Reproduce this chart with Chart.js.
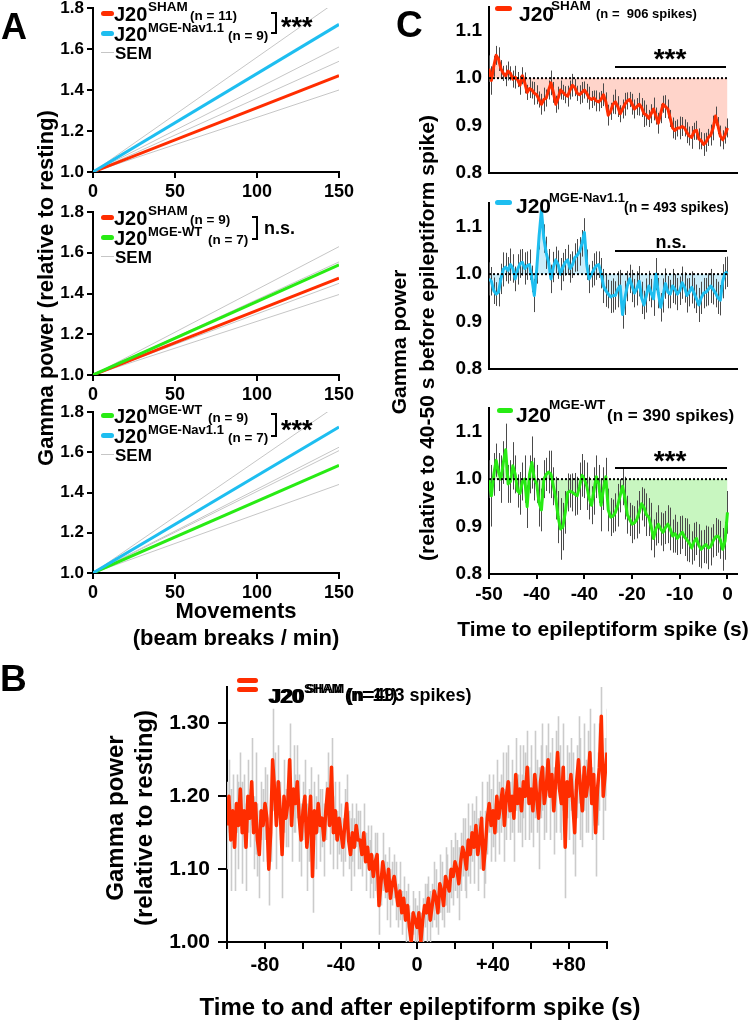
<!DOCTYPE html>
<html>
<head>
<meta charset="utf-8">
<script src="https://cdn.jsdelivr.net/npm/chart.js@4.4.1/dist/chart.umd.min.js"></script>
<style>
  html, body { margin: 0; padding: 0; background: #fff; }
  #page { position: relative; width: 754px; height: 1020px; overflow: hidden; }
  #page canvas { position: absolute; }
  #overlay { position: absolute; left: 0; top: 0; width: 754px; height: 1020px; z-index: 2; }
  .lbl { position: absolute; white-space: pre; line-height: 1; font-family: "Liberation Sans", Arial, sans-serif; font-weight: bold; color: #000; }
  .bx { position: absolute; }
</style>
</head>
<body>
<div id="page">
  <canvas id="a1"></canvas>
  <canvas id="a2"></canvas>
  <canvas id="a3"></canvas>
  <canvas id="c1"></canvas>
  <canvas id="c2"></canvas>
  <canvas id="c3"></canvas>
  <canvas id="b1"></canvas>
  <div id="overlay"></div>
</div>
<script>
// ---- panel A: gamma power vs movements (regression lines) ----
const moveX = [0, 150];
const a1Sham = [1.00, 1.47];
const a1Nav = [1.00, 1.72];
const a1Sem = [[1.00, 1.84], [1.00, 1.61], [1.00, 1.54], [1.00, 1.40]];
const a2Sham = [1.00, 1.475];
const a2Wt = [1.00, 1.54];
const a2Sem = [[1.00, 1.63], [1.00, 1.555], [1.00, 1.45], [1.00, 1.395]];
const a3Wt = [1.00, 1.535];
const a3Nav = [1.00, 1.725];
const a3Sem = [[1.00, 1.84], [1.00, 1.625], [1.00, 1.608], [1.00, 1.44]];
const aYTicks = [1.0, 1.2, 1.4, 1.6, 1.8];
const aYLabels = ['1.0', '1.2', '1.4', '1.6', '1.8'];
const aXTicks = [0, 50, 100, 150];
const aXLabels = ['0', '50', '100', '150'];

// ---- panel C: gamma power before spikes ----
const timeC = [
  -50, -49.5, -49, -48.5, -48, -47.5, -47, -46.5, -46, -45.5,
  -45, -44.5, -44, -43.5, -43, -42.5, -42, -41.5, -41, -40.5,
  -40, -39.5, -39, -38.5, -38, -37.5, -37, -36.5, -36, -35.5,
  -35, -34.5, -34, -33.5, -33, -32.5, -32, -31.5, -31, -30.5,
  -30, -29.5, -29, -28.5, -28, -27.5, -27, -26.5, -26, -25.5,
  -25, -24.5, -24, -23.5, -23, -22.5, -22, -21.5, -21, -20.5,
  -20, -19.5, -19, -18.5, -18, -17.5, -17, -16.5, -16, -15.5,
  -15, -14.5, -14, -13.5, -13, -12.5, -12, -11.5, -11, -10.5,
  -10, -9.5, -9, -8.5, -8, -7.5, -7, -6.5, -6, -5.5,
  -5, -4.5, -4, -3.5, -3, -2.5, -2, -1.5, -1, -0.5,
  0
];
const cSham = [
  1.020, 0.995, 1.025, 1.048, 1.040, 1.020, 1.010, 1.005, 1.015, 1.010,
  0.998, 1.002, 0.997, 0.985, 1.005, 0.990, 0.970, 0.978, 0.975, 0.968,
  0.965, 0.955, 0.945, 0.955, 0.958, 0.975, 0.990, 0.970, 0.945, 0.958,
  0.975, 0.970, 0.965, 0.962, 0.975, 0.985, 0.980, 0.968, 0.965, 0.970,
  0.975, 0.968, 0.958, 0.955, 0.958, 0.952, 0.950, 0.955, 0.965, 0.950,
  0.922, 0.930, 0.945, 0.950, 0.940, 0.925, 0.935, 0.945, 0.952, 0.955,
  0.945, 0.935, 0.940, 0.945, 0.938, 0.925, 0.922, 0.915, 0.925, 0.935,
  0.920, 0.905, 0.925, 0.945, 0.940, 0.935, 0.915, 0.895, 0.890, 0.895,
  0.895, 0.898, 0.895, 0.885, 0.878, 0.875, 0.888, 0.890, 0.872, 0.868,
  0.860, 0.865, 0.875, 0.880, 0.895, 0.920, 0.900, 0.878, 0.870, 0.880,
  0.895
];
const cShamSem = [
  0.028, 0.030, 0.022, 0.020, 0.025, 0.018, 0.016, 0.022, 0.020, 0.015,
  0.018, 0.024, 0.016, 0.020, 0.018, 0.022, 0.016, 0.020, 0.018, 0.024,
  0.020, 0.017, 0.022, 0.025, 0.018, 0.020, 0.026, 0.022, 0.018, 0.024,
  0.020, 0.016, 0.018, 0.022, 0.020, 0.024, 0.018, 0.016, 0.020, 0.022,
  0.018, 0.020, 0.024, 0.018, 0.016, 0.022, 0.020, 0.018, 0.024, 0.020,
  0.022, 0.018, 0.020, 0.026, 0.022, 0.018, 0.020, 0.024, 0.018, 0.016,
  0.022, 0.020, 0.018, 0.024, 0.020, 0.028, 0.022, 0.018, 0.020, 0.024,
  0.018, 0.022, 0.020, 0.018, 0.024, 0.020, 0.018, 0.022, 0.020, 0.018,
  0.024, 0.020, 0.018, 0.022, 0.020, 0.024, 0.018, 0.020, 0.022, 0.018,
  0.024, 0.020, 0.018, 0.022, 0.026, 0.020, 0.018, 0.022, 0.020, 0.018,
  0.020
];
const cNav = [
  0.990, 0.985, 0.965, 0.958, 0.962, 0.990, 1.010, 1.015, 1.008, 1.020,
  1.012, 0.990, 1.010, 1.022, 1.025, 1.012, 1.018, 1.020, 0.990, 0.955,
  1.010, 1.080, 1.135, 1.075, 1.045, 1.025, 0.990, 1.015, 1.030, 1.020,
  1.000, 1.015, 1.025, 1.030, 1.012, 1.020, 1.035, 1.040, 1.048, 1.065,
  1.088, 1.020, 0.990, 1.000, 1.010, 1.018, 1.020, 1.002, 0.975, 0.965,
  0.958, 0.952, 0.955, 0.955, 0.968, 0.975, 0.915, 0.950, 0.975, 0.990,
  0.975, 0.960, 0.970, 0.985, 0.950, 0.935, 0.955, 0.975, 0.960, 0.948,
  1.000, 0.960, 0.930, 0.955, 0.980, 0.962, 0.958, 0.975, 0.968, 0.958,
  0.965, 0.982, 0.972, 0.955, 0.962, 0.972, 0.960, 0.948, 0.935, 0.950,
  0.960, 0.962, 0.968, 0.975, 0.968, 0.960, 0.950, 0.945, 0.985, 1.002,
  1.005
];
const cNavSem = [
  0.035, 0.030, 0.028, 0.025, 0.030, 0.032, 0.036, 0.030, 0.028, 0.034,
  0.030, 0.026, 0.032, 0.030, 0.028, 0.034, 0.030, 0.032, 0.028, 0.035,
  0.030, 0.028, 0.022, 0.030, 0.034, 0.028, 0.030, 0.032, 0.028, 0.030,
  0.034, 0.030, 0.028, 0.032, 0.030, 0.028, 0.030, 0.034, 0.030, 0.028,
  0.030, 0.032, 0.030, 0.028, 0.034, 0.030, 0.028, 0.032, 0.036, 0.034,
  0.030, 0.034, 0.036, 0.030, 0.038, 0.034, 0.030, 0.036, 0.032, 0.030,
  0.034, 0.030, 0.036, 0.032, 0.034, 0.030, 0.036, 0.032, 0.030, 0.036,
  0.034, 0.032, 0.030, 0.036, 0.032, 0.034, 0.030, 0.036, 0.032, 0.034,
  0.030, 0.034, 0.032, 0.036, 0.030, 0.034, 0.032, 0.030, 0.036, 0.034,
  0.032, 0.030, 0.034, 0.036, 0.032, 0.030, 0.034, 0.032, 0.036, 0.034,
  0.032
];
const cWt = [
  1.000, 0.965, 1.010, 1.040, 1.015, 1.000, 1.035, 1.062, 0.990, 0.995,
  1.028, 1.010, 0.975, 0.970, 0.995, 1.000, 0.942, 1.010, 1.035, 1.000,
  0.990, 0.950, 0.935, 1.000, 1.010, 1.015, 1.010, 0.985, 0.960, 0.920,
  0.895, 0.900, 0.930, 0.972, 0.975, 0.972, 0.968, 0.965, 0.985, 1.008,
  1.000, 0.985, 0.960, 0.945, 0.975, 1.005, 0.990, 0.945, 0.980, 1.005,
  0.935, 0.920, 0.922, 0.930, 0.945, 0.965, 0.985, 0.960, 0.925, 0.915,
  0.905, 0.908, 0.915, 0.930, 0.948, 0.940, 0.925, 0.920, 0.900, 0.875,
  0.895, 0.905, 0.895, 0.888, 0.898, 0.905, 0.895, 0.880, 0.885, 0.875,
  0.882, 0.888, 0.878, 0.872, 0.865, 0.855, 0.868, 0.875, 0.860, 0.852,
  0.858, 0.862, 0.855, 0.858, 0.870, 0.878, 0.880, 0.872, 0.852, 0.870,
  0.930
];
const cWtSem = [
  0.040, 0.065, 0.045, 0.035, 0.040, 0.050, 0.045, 0.055, 0.040, 0.045,
  0.050, 0.040, 0.035, 0.045, 0.040, 0.050, 0.045, 0.040, 0.055, 0.045,
  0.040, 0.050, 0.045, 0.040, 0.035, 0.045, 0.050, 0.040, 0.045, 0.055,
  0.065, 0.050, 0.045, 0.040, 0.035, 0.040, 0.045, 0.040, 0.050, 0.045,
  0.040, 0.050, 0.045, 0.040, 0.050, 0.045, 0.040, 0.055, 0.045, 0.040,
  0.045, 0.040, 0.035, 0.040, 0.045, 0.035, 0.040, 0.045, 0.040, 0.035,
  0.040, 0.035, 0.040, 0.045, 0.035, 0.040, 0.045, 0.040, 0.050, 0.040,
  0.035, 0.040, 0.035, 0.040, 0.035, 0.040, 0.045, 0.035, 0.040, 0.035,
  0.040, 0.035, 0.040, 0.045, 0.040, 0.035, 0.040, 0.035, 0.045, 0.040,
  0.035, 0.040, 0.045, 0.040, 0.035, 0.040, 0.035, 0.040, 0.045, 0.040,
  0.045
];
const cRefX = [-50, 0];
const cRefY = [1.0, 1.0];
const cYTicks = [0.8, 0.9, 1.0, 1.1];
const cYLabels = ['0.8', '0.9', '1.0', '1.1'];
const cXTicks = [-50, -40, -30, -20, -10, 0];
const cXLabels = ['-50', '-40', '-40', '-20', '-10', '0'];

// ---- panel B: gamma power around spikes ----
const timeB = [
  -100, -99, -98, -97, -96, -95, -94, -93, -92, -91,
  -90, -89, -88, -87, -86, -85, -84, -83, -82, -81,
  -80, -79, -78, -77, -76, -75, -74, -73, -72, -71,
  -70, -69, -68, -67, -66, -65, -64, -63, -62, -61,
  -60, -59, -58, -57, -56, -55, -54, -53, -52, -51,
  -50, -49, -48, -47, -46, -45, -44, -43, -42, -41,
  -40, -39, -38, -37, -36, -35, -34, -33, -32, -31,
  -30, -29, -28, -27, -26, -25, -24, -23, -22, -21,
  -20, -19, -18, -17, -16, -15, -14, -13, -12, -11,
  -10, -9, -8, -7, -6, -5, -4, -3, -2, -1,
  0, 1, 2, 3, 4, 5, 6, 7, 8, 9,
  10, 11, 12, 13, 14, 15, 16, 17, 18, 19,
  20, 21, 22, 23, 24, 25, 26, 27, 28, 29,
  30, 31, 32, 33, 34, 35, 36, 37, 38, 39,
  40, 41, 42, 43, 44, 45, 46, 47, 48, 49,
  50, 51, 52, 53, 54, 55, 56, 57, 58, 59,
  60, 61, 62, 63, 64, 65, 66, 67, 68, 69,
  70, 71, 72, 73, 74, 75, 76, 77, 78, 79,
  80, 81, 82, 83, 84, 85, 86, 87, 88, 89,
  90, 91, 92, 93, 94, 95, 96, 97, 98, 99,
  100
];
const bSham = [
  1.16, 1.20, 1.14, 1.18, 1.13, 1.19, 1.16, 1.21, 1.15, 1.18,
  1.13, 1.20, 1.17, 1.22, 1.15, 1.19, 1.14, 1.12, 1.18, 1.16,
  1.19, 1.17, 1.10, 1.15, 1.25, 1.21, 1.16, 1.22, 1.18, 1.12,
  1.20, 1.17, 1.19, 1.25, 1.16, 1.21, 1.19, 1.22, 1.17, 1.14,
  1.18, 1.20, 1.13, 1.16, 1.20, 1.09, 1.18, 1.15, 1.19, 1.16,
  1.17, 1.14, 1.18, 1.21, 1.16, 1.24, 1.15, 1.18, 1.14, 1.17,
  1.15, 1.13, 1.16, 1.19, 1.14, 1.12, 1.15, 1.13, 1.16, 1.14,
  1.14, 1.12, 1.15, 1.11, 1.13, 1.10, 1.12, 1.09, 1.11, 1.12,
  1.05, 1.08, 1.11, 1.09, 1.07, 1.10, 1.06, 1.08, 1.09, 1.07,
  1.05, 1.07, 1.04, 1.06, 1.03, 1.05, 1.02, 1.00, 1.04, 1.03,
  1.02, 1.04, 1.00, 1.03, 1.05, 1.04, 1.06, 1.03, 1.05, 1.07,
  1.06, 1.04, 1.08, 1.07, 1.05, 1.09, 1.08, 1.07, 1.10, 1.09,
  1.11, 1.10, 1.08, 1.11, 1.13, 1.12, 1.10, 1.14, 1.12, 1.15,
  1.13, 1.16, 1.12, 1.14, 1.17, 1.10, 1.13, 1.17, 1.19, 1.16,
  1.18, 1.15, 1.20, 1.17, 1.19, 1.21, 1.16, 1.20, 1.22, 1.18,
  1.20, 1.17, 1.23, 1.19, 1.21, 1.18, 1.22, 1.20, 1.24, 1.19,
  1.21, 1.18, 1.23, 1.20, 1.17, 1.22, 1.24, 1.19, 1.21, 1.25,
  1.20, 1.23, 1.18, 1.22, 1.26, 1.21, 1.19, 1.24, 1.13, 1.22,
  1.20, 1.23, 1.19, 1.15, 1.22, 1.25, 1.21, 1.18, 1.24, 1.20,
  1.22, 1.26, 1.19, 1.23, 1.15, 1.21, 1.24, 1.31, 1.20, 1.23,
  1.26
];
const bShamSem = [
  0.06, 0.05, 0.07, 0.05, 0.06, 0.04, 0.06, 0.05, 0.07, 0.05,
  0.06, 0.05, 0.04, 0.06, 0.05, 0.07, 0.05, 0.06, 0.04, 0.05,
  0.05, 0.06, 0.05, 0.04, 0.07, 0.05, 0.06, 0.05, 0.04, 0.06,
  0.05, 0.04, 0.06, 0.05, 0.05, 0.06, 0.04, 0.05, 0.06, 0.05,
  0.04, 0.05, 0.06, 0.05, 0.04, 0.05, 0.04, 0.05, 0.04, 0.05,
  0.04, 0.05, 0.04, 0.05, 0.04, 0.04, 0.05, 0.04, 0.04, 0.05,
  0.04, 0.04, 0.05, 0.04, 0.04, 0.05, 0.04, 0.04, 0.03, 0.04,
  0.04, 0.03, 0.04, 0.04, 0.03, 0.04, 0.04, 0.03, 0.04, 0.03,
  0.04, 0.03, 0.04, 0.03, 0.04, 0.03, 0.04, 0.03, 0.03, 0.04,
  0.03, 0.04, 0.03, 0.03, 0.04, 0.03, 0.03, 0.04, 0.03, 0.03,
  0.03, 0.03, 0.04, 0.03, 0.03, 0.04, 0.03, 0.04, 0.03, 0.04,
  0.04, 0.03, 0.04, 0.04, 0.03, 0.04, 0.04, 0.03, 0.04, 0.04,
  0.04, 0.04, 0.05, 0.04, 0.04, 0.05, 0.04, 0.05, 0.04, 0.04,
  0.05, 0.04, 0.05, 0.04, 0.05, 0.04, 0.05, 0.05, 0.04, 0.05,
  0.05, 0.04, 0.05, 0.05, 0.04, 0.05, 0.05, 0.06, 0.05, 0.04,
  0.05, 0.06, 0.05, 0.04, 0.06, 0.05, 0.05, 0.06, 0.05, 0.05,
  0.06, 0.05, 0.06, 0.05, 0.07, 0.05, 0.06, 0.05, 0.06, 0.05,
  0.06, 0.05, 0.06, 0.07, 0.05, 0.06, 0.05, 0.06, 0.07, 0.05,
  0.06, 0.05, 0.07, 0.06, 0.05, 0.06, 0.07, 0.05, 0.06, 0.05,
  0.07, 0.06, 0.05, 0.07, 0.06, 0.05, 0.06, 0.08, 0.06, 0.05,
  0.06
];
const bYTicks = [1.0, 1.1, 1.2, 1.3];
const bYLabels = ['1.00', '1.10', '1.20', '1.30'];
const bXTicks = [-100, -80, -60, -40, -20, 0, 20, 40, 60, 80, 100];
const bXLabels = ['', '-80', '', '-40', '', '0', '', '+40', '', '+80', ''];

const RED = 'rgb(255,45,0)';
const BLUE = 'rgb(30,190,240)';
const GREEN = 'rgb(40,235,20)';
const SEM_GRAY = '#c6c6c6';
const FONT = '"Liberation Sans", Arial, sans-serif';

// vertical SEM bars, drawn just under each dataset's line
const errorBars = {
  id: 'errorBars',
  beforeDatasetDraw(chart, args) {
    const ds = chart.data.datasets[args.index];
    if (!ds.sem) return;
    const xs = chart.scales.x, ys = chart.scales.y, area = chart.chartArea;
    const ctx = chart.ctx;
    ctx.save();
    ctx.beginPath();
    ctx.rect(area.left, area.top, area.right - area.left, area.bottom - area.top);
    ctx.clip();
    ctx.strokeStyle = ds.semColor;
    ctx.lineWidth = ds.semWidth || 1;
    ctx.beginPath();
    ds.data.forEach((p, i) => {
      const px = Math.round(xs.getPixelForValue(p.x)) + 0.5;
      ctx.moveTo(px, ys.getPixelForValue(p.y - ds.sem[i]));
      ctx.lineTo(px, ys.getPixelForValue(p.y + ds.sem[i]));
    });
    ctx.stroke();
    ctx.restore();
  }
};

function seg(xs, ys) {
  return xs.map((x, i) => ({ x: x, y: ys[i] }));
}

function lineDs(data, color, width, extra) {
  return Object.assign({
    data: data, borderColor: color, borderWidth: width,
    pointRadius: 0, tension: 0, fill: false, borderJoinStyle: 'round'
  }, extra || {});
}

function linScale(o) {
  return {
    type: 'linear', min: o.min, max: o.max,
    afterBuildTicks: s => { s.ticks = o.ticks.map(v => ({ value: v })); },
    border: { display: true, color: '#000', width: 2 },
    grid: {
      display: o.tickLen > 0, drawOnChartArea: false, drawTicks: o.tickLen > 0,
      tickLength: o.tickLen, color: '#000', lineWidth: 2
    },
    ticks: {
      display: o.labels !== null, autoSkip: false, maxRotation: 0, minRotation: 0,
      padding: o.pad || 0, color: '#000',
      font: { family: FONT, weight: 'bold', size: o.size || 12 },
      callback: (v, i) => (o.labels ? o.labels[i] : '')
    }
  };
}

function makeChart(id, box, datasets, xScale, yScale) {
  const c = document.getElementById(id);
  c.width = box.yW + (box.r - box.l) + box.padR;
  c.height = box.padT + (box.b - box.t) + box.xH;
  c.style.left = (box.l - box.yW) + 'px';
  c.style.top = (box.t - box.padT) + 'px';
  xScale.afterFit = s => { s.height = box.xH; };
  yScale.afterFit = s => { s.width = box.yW; };
  return new Chart(c, {
    type: 'line',
    data: { datasets: datasets },
    options: {
      responsive: false, animation: false, events: [], devicePixelRatio: 1,
      layout: { padding: { top: box.padT, right: box.padR, left: 0, bottom: 0 } },
      plugins: { legend: { display: false }, tooltip: { enabled: false } },
      scales: { x: xScale, y: yScale }
    },
    plugins: [errorBars]
  });
}

// ---- A charts ----
function aChart(id, top, bottom, mainLines, semLines) {
  const box = { l: 93, r: 339, t: top, b: bottom, yW: 60, xH: 34, padT: 14, padR: 22 };
  const ds = mainLines.map(m => lineDs(seg(moveX, m[0]), m[1], 3))
    .concat(semLines.map(s => lineDs(seg(moveX, s), SEM_GRAY, 1)));
  makeChart(id, box, ds,
    linScale({ min: 0, max: 150, ticks: aXTicks, labels: aXLabels, size: 18, tickLen: 6, pad: 3 }),
    linScale({ min: 1.0, max: 1.8, ticks: aYTicks, labels: aYLabels, size: 17, tickLen: 6, pad: 3 }));
}
aChart('a1', 8, 172, [[a1Nav, BLUE], [a1Sham, RED]], a1Sem);
aChart('a2', 212, 375, [[a2Wt, GREEN], [a2Sham, RED]], a2Sem);
aChart('a3', 412, 573, [[a3Nav, BLUE], [a3Wt, GREEN]], a3Sem);

// ---- C charts ----
function cChart(id, top, bottom, values, sem, color, fillColor, showX) {
  const box = { l: 489, r: 737, t: top, b: bottom, yW: 52, xH: showX ? 40 : 20, padT: 20, padR: 12 };
  const ds = [
    lineDs(seg(cRefX, cRefY), '#000', 2, { borderDash: [2, 2] }),
    lineDs(seg(timeC, values), color, 3, {
      sem: sem, semColor: '#4a4a4a',
      fill: { target: { value: 1.0 }, above: fillColor, below: fillColor }
    })
  ];
  makeChart(id, box, ds,
    showX ? linScale({ min: -50, max: 2, ticks: cXTicks, labels: cXLabels, size: 19, tickLen: 5, pad: 4 })
          : linScale({ min: -50, max: 2, ticks: cXTicks, labels: null, tickLen: 0 }),
    linScale({ min: 0.8, max: 1.15, ticks: cYTicks, labels: cYLabels, size: 19, tickLen: 0, pad: 7 }));
}
cChart('c1', 7, 173, cSham, cShamSem, RED, 'rgb(255,212,202)', false);
cChart('c2', 203, 369, cNav, cNavSem, BLUE, 'rgb(204,238,250)', false);
cChart('c3', 408, 574, cWt, cWtSem, GREEN, 'rgb(200,246,192)', true);

// ---- B chart ----
makeChart('b1', { l: 227, r: 607, t: 687, b: 942, yW: 70, xH: 40, padT: 24, padR: 10 },
  [lineDs(seg(timeB, bSham), RED, 3.5, { sem: bShamSem, semColor: '#cbcbcb', semWidth: 1.6 })],
  linScale({ min: -100, max: 100, ticks: bXTicks, labels: bXLabels, size: 20, tickLen: 7, pad: 4 }),
  linScale({ min: 1.0, max: 1.35, ticks: bYTicks, labels: bYLabels, size: 21, tickLen: 9, pad: 8 }));

// ---- text and annotation overlay ----
const overlay = document.getElementById('overlay');
function txt(s, x, y, size, how) {
  const d = document.createElement('div');
  d.className = 'lbl';
  d.textContent = s;
  d.style.left = x + 'px';
  d.style.top = y + 'px';
  d.style.fontSize = size + 'px';
  d.style.transform = how === 'c' ? 'translate(-50%,-50%)'
    : how === 'r' ? 'translate(-50%,-50%) rotate(-90deg)'
    : 'translateY(-50%)';
  overlay.appendChild(d);
}
function rect(x, y, w, h, color, radius) {
  const d = document.createElement('div');
  d.className = 'bx';
  d.style.left = x + 'px';
  d.style.top = y + 'px';
  d.style.width = w + 'px';
  d.style.height = h + 'px';
  d.style.background = color;
  if (radius) d.style.borderRadius = radius + 'px';
  overlay.appendChild(d);
}
function swatch(x1, x2, y, color) { rect(x1, y - 2.5, x2 - x1, 5, color, 3); }
function thin(x1, x2, y) { rect(x1, y, x2 - x1, 1, SEM_GRAY); }
function hline(x1, x2, y) { rect(x1, y - 1, x2 - x1, 2, '#000'); }
function bracket(x1, x2, y1, y2) {
  rect(x2 - 2, y1, 2, y2 - y1, '#000');
  rect(x1, y1, x2 - x1, 2, '#000');
  rect(x1, y2 - 2, x2 - x1, 2, '#000');
}

txt('A', 1, 27, 36);
txt('C', 396, 24, 37);
txt('B', 0, 678, 37);

// A1 legend
swatch(101, 114, 13, RED); txt('J20', 114, 14, 20); txt('SHAM', 148, 7, 13.5); txt('(n = 11)', 190, 16, 13.5);
swatch(101, 114, 33, BLUE); txt('J20', 114, 34, 20); txt('MGE-Nav1.1', 148, 27, 13); txt('(n = 9)', 228, 36, 13.5);
thin(101, 114, 52); txt('SEM', 115, 53, 17);
bracket(271, 277, 12, 34); txt('***', 281, 27, 27);
// A2 legend
swatch(101, 114, 217, RED); txt('J20', 114, 218, 20); txt('SHAM', 148, 211, 13.5); txt('(n = 9)', 190, 220, 13.5);
swatch(101, 114, 237, GREEN); txt('J20', 114, 238, 20); txt('MGE-WT', 148, 231, 13); txt('(n = 7)', 208, 240, 13.5);
thin(101, 114, 256); txt('SEM', 115, 257, 17);
bracket(252, 258, 216, 240); txt('n.s.', 264, 228, 18);
// A3 legend
swatch(101, 114, 415, GREEN); txt('J20', 114, 416, 20); txt('MGE-WT', 148, 409, 13); txt('(n = 9)', 208, 418, 13.5);
swatch(101, 114, 435, BLUE); txt('J20', 114, 436, 20); txt('MGE-Nav1.1', 148, 429, 13); txt('(n = 7)', 228, 438, 13.5);
thin(101, 114, 454); txt('SEM', 115, 455, 17);
bracket(271, 277, 413, 437); txt('***', 281, 430, 27);
// A axis titles
txt('Gamma power (relative to resting)', 46, 288, 22, 'r');
txt('Movements', 236, 611, 22, 'c');
txt('(beam breaks / min)', 236, 638, 22, 'c');

// C legends and significance bars
swatch(495, 512, 8, RED); txt('J20', 519, 13, 21); txt('SHAM', 551, 6, 13.5); txt('(n =  906 spikes)', 596, 13, 13);
hline(615, 726, 67); txt('***', 670, 59, 28, 'c');
swatch(495, 512, 202, BLUE); txt('J20', 516, 205, 21); txt('MGE-Nav1.1', 549, 197, 13); txt('(n = 493 spikes)', 624, 207, 14);
hline(615, 727, 251); txt('n.s.', 671, 242, 18, 'c');
swatch(497, 513, 410, GREEN); txt('J20', 516, 414, 21); txt('MGE-WT', 549, 405, 13.5); txt('(n = 390 spikes)', 607, 415, 17);
hline(615, 727, 468); txt('***', 670, 461, 28, 'c');
txt('Gamma power', 398, 342, 21, 'r');
txt('(relative to 40-50 s before epileptiform spike)', 426, 338, 21, 'r');
txt('Time to epileptiform spike (s)', 603, 628, 21, 'c');

// B legend (overprinted in the original) and titles
swatch(237, 258, 680, RED); swatch(237, 258, 689, RED);
txt('J20', 268, 695, 21); txt('J20', 270, 695, 21);
txt('SHAM', 304, 688, 13); txt('SHAM', 306, 688, 13);
txt('(n=11)', 345, 695, 18); txt('(n=493 spikes)', 347, 695, 18);
txt('Gamma power', 115, 818, 24, 'r');
txt('(relative to resting)', 144, 818, 24, 'r');
txt('Time to and after epileptiform spike (s)', 420, 1007, 24, 'c');
</script>
</body>
</html>
